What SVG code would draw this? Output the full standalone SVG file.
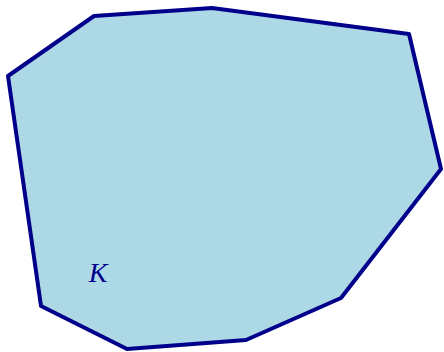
<svg xmlns="http://www.w3.org/2000/svg" width="444" height="352" viewBox="0 0 444 352">
<style>
.region{fill:#ADD8E6;stroke:#00008B;stroke-width:4;stroke-linejoin:round}
.lbl{font-family:"Liberation Serif","DejaVu Serif",serif;font-style:italic;font-size:28px;fill:#00008B}
</style>
<g id="K">
<polygon class="region" points="8,76 94,16 212,8 409,34 441,169 341,298 246,340 127,349 41,306"/>
<text class="lbl" x="98" y="282" text-anchor="middle">K</text>
</g>
</svg>
